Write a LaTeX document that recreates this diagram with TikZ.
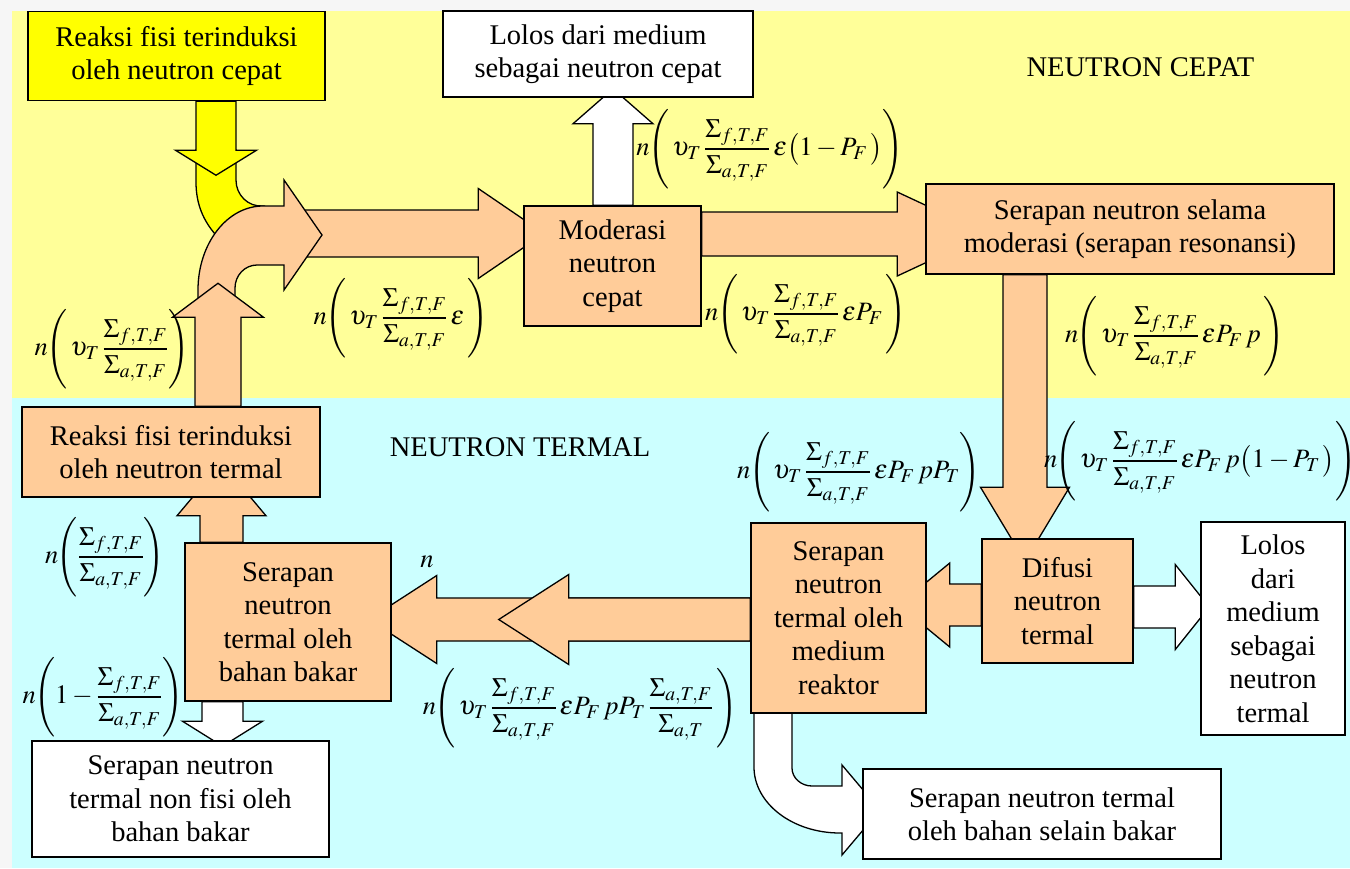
\documentclass[tikz,border=0pt]{standalone}
\usepackage{amsmath}
\usepackage{mathptmx}
\usepackage[no-math]{fontspec}
\setmainfont{Liberation Serif}
\usetikzlibrary{calc}
\pgfdeclarelayer{zones}
\pgfdeclarelayer{arrows}
\pgfsetlayers{zones,arrows,main}

\definecolor{bgout}{HTML}{F6F6F6}
\definecolor{zoneY}{HTML}{FFFF99}
\definecolor{zoneC}{HTML}{CCFFFF}
\definecolor{peach}{HTML}{FFCC99}
\definecolor{ybox}{HTML}{FFFF00}

\newcommand\mytxt{\fontsize{28.5}{33.5}\selectfont}
\newcommand\mymath{\fontsize{26.5}{31}\selectfont}
\newcommand\Sf{\Sigma_{f,T,F}}
\newcommand\Sa{\Sigma_{a,T,F}}
\newcommand\nL{n\mkern-1mu\Biggl(}

% block arrow: [style]{start}{tip}{shaft half width}{head half width}{head length}
\newcommand\blockarrow[6][]{%
  \draw[#1] let \p1=(#2), \p2=(#3), \p3=($(#3)!#6!(#2)$) in
   ($(\p1)!#4!90:(\p2)$) -- ($(\p3)!#4!90:(\p2)$) -- ($(\p3)!#5!90:(\p2)$) -- (\p2)
   -- ($(\p3)!#5!-90:(\p2)$) -- ($(\p3)!#4!-90:(\p2)$) -- ($(\p1)!#4!-90:(\p2)$) -- cycle;}

\begin{document}
\begin{tikzpicture}[x=1pt,y=-1pt,
  box/.style={draw, line width=1.5pt, inner sep=0pt, align=center, font=\mytxt},
  lbl/.style={inner sep=0pt, font=\mytxt},
  frm/.style={inner sep=0pt, font=\mymath},
  arrO/.style={fill=peach, draw=black, line width=1.3pt, line join=miter},
  arrW/.style={fill=white, draw=black, line width=1.3pt, line join=miter},
  arrY/.style={fill=ybox, draw=black, line width=1.3pt, line join=miter}]
\useasboundingbox (0,0) rectangle (1350,868);

\begin{pgfonlayer}{zones}
\fill[bgout] (0,0) rectangle (1350,868);
\fill[zoneY] (12,11) rectangle (1350,398);
\fill[zoneC] (12,398) rectangle (1350,868);
\end{pgfonlayer}

% ---------- boxes ----------
\node[box, fill=ybox, minimum width=297pt, minimum height=89pt] (fastfis) at (176.5,56) {Reaksi fisi terinduksi\\oleh neutron cepat};
\node[box, fill=white, minimum width=310pt, minimum height=86pt] (fastleak) at (598,54) {Lolos dari medium\\sebagai neutron cepat};
\node[box, fill=peach, minimum width=177pt, minimum height=120pt] (moder) at (612.5,266) {Moderasi\\neutron\\cepat};
\node[box, fill=peach, minimum width=408pt, minimum height=90pt] (reson) at (1130,229) {Serapan neutron selama\\moderasi (serapan resonansi)};
\node[box, fill=peach, minimum width=298pt, minimum height=90pt] (thfis) at (171,452) {Reaksi fisi terinduksi\\oleh neutron termal};
\node[box, fill=peach, minimum width=206pt, minimum height=158pt] (fuelabs) at (288,622) {Serapan\\neutron\\termal oleh\\bahan bakar};
\node[box, fill=white, minimum width=297pt, minimum height=116pt] (nonfis) at (180.5,799) {Serapan neutron\\termal non fisi oleh\\bahan bakar};
\node[box, fill=peach, minimum width=175pt, minimum height=190pt] (medabs) at (838.5,618) {Serapan\\neutron\\termal oleh\\medium\\reaktor};
\node[box, fill=peach, minimum width=151pt, minimum height=124pt] (diff) at (1057.5,601) {Difusi\\neutron\\termal};
\node[box, fill=white, minimum width=144pt, minimum height=213pt] (thleak) at (1273,628.5) {Lolos\\dari\\medium\\sebagai\\neutron\\termal};
\node[box, fill=white, minimum width=358pt, minimum height=90pt] (other) at (1042,814) {Serapan neutron termal\\oleh bahan selain bakar};

\node[lbl] (cepat) at (1140.5,67) {NEUTRON CEPAT};
\node[lbl] (termal) at (520,447) {NEUTRON TERMAL};

% ---------- formulas ----------
\node[frm] (f1) at (112,349) {$\nL\,\upsilon_T\,\dfrac{\Sf}{\Sa}\Biggr)$};
\node[frm] (f2) at (401,318) {$\nL\,\upsilon_T\,\dfrac{\Sf}{\Sa}\,\varepsilon\,\Biggr)$};
\node[frm] (f3) at (770,149) {$\nL\,\upsilon_T\,\dfrac{\Sf}{\Sa}\,\varepsilon\bigl(1-P_F\,\bigr)\Biggr)$};
\node[frm] (f4) at (806,314) {$\nL\,\upsilon_T\,\dfrac{\Sf}{\Sa}\,\varepsilon P_F\,\Biggr)$};
\node[frm] (f5) at (1175,336) {$\nL\,\upsilon_T\,\dfrac{\Sf}{\Sa}\,\varepsilon P_F\,p\,\Biggr)$};
\node[frm] (f6) at (859,472) {$\nL\,\upsilon_T\,\dfrac{\Sf}{\Sa}\,\varepsilon P_F\,pP_T\Biggr)$};
\node[frm] (f7) at (1200,461) {$\nL\,\upsilon_T\,\dfrac{\Sf}{\Sa}\,\varepsilon P_F\,p\bigl(1-P_T\,\bigr)\Biggr)$};
\node[frm] (f8) at (105,557) {$\nL\dfrac{\Sf}{\Sa}\Biggr)$};
\node[frm] (f9) at (103,697) {$\nL 1-\dfrac{\Sf}{\Sa}\Biggr)$};
\node[frm] (f10) at (427,562) {$n$};
\node[frm] (f11) at (580,708) {$\nL\,\upsilon_T\,\dfrac{\Sf}{\Sa}\,\varepsilon P_F\,pP_T\,\dfrac{\Sa}{\Sigma_{a,T}}\,\Biggr)$};

% ---------- arrow end points ----------
\coordinate (yA) at ($(fastfis.south)+(39.5,0)$);
\coordinate (yB) at ($(yA)+(0,74)$);
\coordinate (uA) at ($(thfis.north)+(47,0)$);
\coordinate (uB) at ($(uA)+(0,-123)$);
\coordinate (rA) at (300,233.5);
\coordinate (rB) at ($(rA -| moder.west)+(21,0)$);
\coordinate (mA) at ($(moder.east)+(0,-32)$);
\coordinate (mB) at ($(mA -| reson.west)+(62,0)$);
\coordinate (lA) at ($(moder.north)+(0.5,0)$);
\coordinate (lB) at ($(lA |- fastleak.south)+(0,-9)$);
\coordinate (dA) at ($(reson.south)+(-105,0)$);
\coordinate (dB) at ($(dA |- diff.north)+(0,23)$);
\coordinate (gA) at ($(diff.west)+(0,4)$);
\coordinate (gB) at ($(gA -| medabs.east)+(-28,0)$);
\coordinate (hA) at ($(diff.east)+(0,6)$);
\coordinate (hB) at ($(hA -| thleak.west)+(9,0)$);
\coordinate (iA) at ($(medabs.west)+(0,1.5)$);
\coordinate (iB) at ($(iA -| fuelabs.east)+(-23,0)$);
\coordinate (iC) at ($(iA -| fuelabs.east)+(107,0)$);
\coordinate (jA) at ($(fuelabs.north)+(-66.5,0)$);
\coordinate (jB) at ($(jA |- thfis.south)+(0,-35)$);
\coordinate (kA) at ($(fuelabs.south)+(-65.5,0)$);
\coordinate (kB) at ($(kA |- nonfis.north)+(0,6)$);

% ---------- arrows ----------
\begin{pgfonlayer}{arrows}
% yellow band below the yellow arrow
\draw[arrY] (196,150) -- (196,182) .. controls (196,205) and (204,221) .. (215,234)
  -- (263,206) .. controls (248,207) and (236,195) .. (236,180) -- (236,150) -- cycle;
\blockarrow[arrY]{yA}{yB}{20pt}{40.5pt}{25pt}
% main right arrow into moderation
\blockarrow[arrO]{rA}{rB}{23.5pt}{45pt}{66pt}
% curved orange arrow
\draw[arrO] (198,318) -- (198,290) .. controls (198,243.6) and (227.1,206) .. (263,206)
  -- (284,206) -- (284,180) -- (322,235) -- (284,290) -- (284,265) -- (257,265)
  .. controls (244.9,265) and (235,275.3) .. (235,288) -- (235,318) -- cycle;
\blockarrow[arrO]{uA}{uB}{23pt}{45.5pt}{34pt}
% fast region
\blockarrow[arrW]{lA}{lB}{20pt}{40pt}{35pt}
\blockarrow[arrO]{mA}{mB}{22pt}{42pt}{90pt}
\blockarrow[arrO]{dA}{dB}{22pt}{44.5pt}{74pt}
% thermal region
\blockarrow[arrO]{gA}{gB}{21pt}{42pt}{51pt}
\blockarrow[arrW]{hA}{hB}{21pt}{42.5pt}{34pt}
\blockarrow[arrO]{iA}{iB}{21.5pt}{44pt}{68pt}
\blockarrow[arrO]{iA}{iC}{21.5pt}{45pt}{70pt}
\blockarrow[arrO]{jA}{jB}{21.5pt}{44.5pt}{53pt}
\blockarrow[arrW]{kA}{kB}{20.5pt}{40pt}{25pt}
% curved white arrow to "bahan selain bakar"
\draw[arrW] (754,713) -- (754,767) .. controls (754,803.4) and (792.5,833) .. (840,833)
  -- (842,833) -- (842,855) -- (880,810) -- (842,765) -- (842,786) -- (812,786)
  .. controls (801,786) and (792,777.9) .. (792,768) -- (792,713) -- cycle;
\end{pgfonlayer}
\end{tikzpicture}
\end{document}
